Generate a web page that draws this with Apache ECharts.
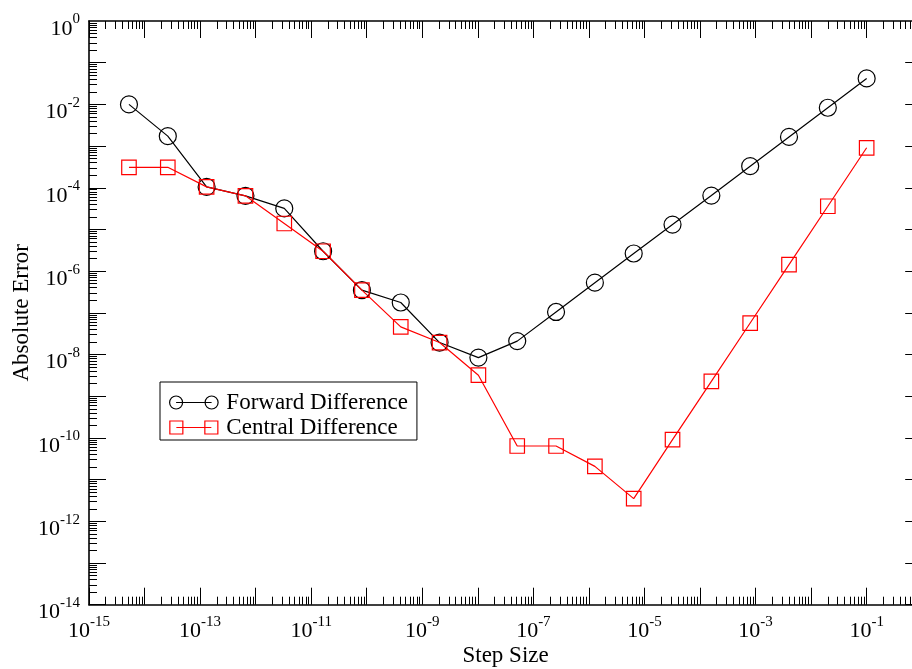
<!DOCTYPE html>
<html><head><meta charset="utf-8">
<script src="https://cdn.jsdelivr.net/npm/echarts@6/dist/echarts.min.js"></script>
<style>html,body{margin:0;padding:0;background:#fff}#c{width:912px;height:669px}</style>
</head><body><div id="c"></div>
<script>
// ---- data ----
const stepSize = [5.24288e-15, 2.62144e-14, 1.31072e-13, 6.5536e-13, 3.2768e-12, 1.6384e-11, 8.192e-11, 4.096e-10, 2.048e-9, 1.024e-8, 5.12e-8, 2.56e-7, 1.28e-6, 6.4e-6, 3.2e-5, 1.6e-4, 8e-4, 4e-3, 2e-2, 1e-1];
const forwardError = [1.0e-2, 1.73e-3, 1.05e-4, 6.4e-5, 3.2e-5, 3.0e-6, 3.5e-7, 1.77e-7, 1.94e-8, 8.45e-9, 2.1e-8, 1.05e-7, 5.3e-7, 2.65e-6, 1.31e-5, 6.5e-5, 3.3e-4, 1.66e-3, 8.3e-3, 4.2e-2];
const centralError = [3.1e-4, 3.1e-4, 1.05e-4, 6.4e-5, 1.39e-5, 3.0e-6, 3.5e-7, 4.6e-8, 1.94e-8, 3.2e-9, 6.4e-11, 6.4e-11, 2.08e-11, 3.5e-12, 9.1e-11, 2.28e-9, 5.7e-8, 1.44e-6, 3.6e-5, 9.1e-4];
const seriesNames = ['Forward Difference', 'Central Difference'];
const xLabelValues = [1e-15, 1e-13, 1e-11, 1e-9, 1e-7, 1e-5, 1e-3, 1e-1];
const yLabelValues = [1e-14, 1e-12, 1e-10, 1e-8, 1e-6, 1e-4, 1e-2, 1];
const xDecadeExps = [-15, -14, -13, -12, -11, -10, -9, -8, -7, -6, -5, -4, -3, -2, -1];
const yDecadeExps = [-14, -13, -12, -11, -10, -9, -8, -7, -6, -5, -4, -3, -2, -1];
const minorMultipliers = [2, 3, 4, 5, 6, 7, 8, 9];

// ---- helpers ----
const FONT = 'Liberation Serif';
function majors(exps) { return exps.map(e => Math.pow(10, e)); }
function minors(exps) {
  const out = [];
  exps.forEach(e => minorMultipliers.forEach(k => out.push(parseFloat((k * Math.pow(10, e)).toPrecision(6)))));
  return out;
}
function fmt(v) {
  const e = Math.round(Math.log10(v));
  return '{b|10}{s|' + e + '}';
}
const rich = {
  b: { fontFamily: FONT, fontSize: 22, lineHeight: 22, color: '#000', padding: [18, 0, 2, 0] },
  s: { fontFamily: FONT, fontSize: 15, lineHeight: 15, color: '#000', padding: [12, 0, 15, 0] }
};
function axis(base, pos, tickVals, tickLen, showLine, label) {
  return Object.assign({
    type: 'log', logBase: 10, position: pos, gridIndex: 0,
    splitLine: { show: false }, minorTick: { show: false },
    axisLine: { show: showLine, onZero: false, lineStyle: { color: '#000', width: 1.6 } },
    axisTick: { show: true, inside: true, length: tickLen, customValues: tickVals, lineStyle: { color: '#000', width: 1 } },
    axisLabel: label || { show: false }
  }, base);
}
const xBase = { min: 1e-15, max: 1 };
const yBase = { min: 1e-14, max: 1 };
const xMaj = majors(xDecadeExps), xMin = minors(xDecadeExps);
const yMaj = majors(yDecadeExps), yMin = minors(yDecadeExps);

const xAxes = [
  axis(Object.assign({ name: 'Step Size', nameLocation: 'middle', nameGap: 40, nameMoveOverlap: false,
    nameTextStyle: { fontFamily: FONT, fontSize: 23, color: '#000' } }, xBase), 'bottom', xMaj, 17, true,
    { show: true, customValues: xLabelValues, formatter: fmt, rich: rich, margin: 8 }),
  axis(xBase, 'bottom', xMin, 8, false),
  axis(xBase, 'top', xMaj, 17, true),
  axis(xBase, 'top', xMin, 8, false)
];
const yAxes = [
  axis(Object.assign({ name: 'Absolute Error', nameLocation: 'middle', nameGap: 56, nameRotate: 90, nameMoveOverlap: false,
    nameTextStyle: { fontFamily: FONT, fontSize: 23, color: '#000' } }, yBase), 'left', yMaj, 17, true,
    { show: true, customValues: yLabelValues, formatter: fmt, rich: rich, margin: 9 }),
  axis(yBase, 'left', yMin, 8, false),
  axis(yBase, 'right', yMaj, 17, true),
  axis(yBase, 'right', yMin, 8, false)
];

const circleIcon = 'path://M0.5,7a6.5,6.5 0 1,0 13,0a6.5,6.5 0 1,0 -13,0M7,7L42.5,7M36,7a6.5,6.5 0 1,0 13,0a6.5,6.5 0 1,0 -13,0';
const squareIcon = 'path://M0.5,0.5h13v13h-13zM7,7L42,7M35.5,0.5h13v13h-13z';

const chart = echarts.init(document.getElementById('c'), null, { renderer: 'canvas' });
chart.setOption({
  animation: false,
  backgroundColor: '#fff',
  grid: { left: 89, right: -10.2, top: 21, bottom: 64.3, containLabel: false, outerBoundsMode: 'none' },
  xAxis: xAxes,
  yAxis: yAxes,
  legend: {
    orient: 'vertical', left: 160, top: 382,
    padding: [9, 9, 1, 9], itemGap: 2, itemWidth: 49, itemHeight: 13,
    backgroundColor: '#fff', borderColor: '#000', borderWidth: 1, borderRadius: 0,
    textStyle: { fontFamily: FONT, fontSize: 23, color: '#000', padding: [0, 0, 0, 3] },
    data: [
      { name: seriesNames[0], icon: circleIcon, itemStyle: { color: 'rgba(0,0,0,0)', borderColor: '#000', borderWidth: 1.2 } },
      { name: seriesNames[1], icon: squareIcon, itemStyle: { color: 'rgba(0,0,0,0)', borderColor: '#ff0000', borderWidth: 1.2 } }
    ]
  },
  series: [
    {
      name: seriesNames[0], type: 'line', xAxisIndex: 0, yAxisIndex: 0,
      data: stepSize.map((x, i) => [x, forwardError[i]]),
      symbol: 'circle', symbolSize: 17, showAllSymbol: true,
      lineStyle: { color: '#000', width: 1.2 },
      itemStyle: { color: 'rgba(0,0,0,0)', borderColor: '#000', borderWidth: 1.2 },
      emphasis: { disabled: true }
    },
    {
      name: seriesNames[1], type: 'line', xAxisIndex: 0, yAxisIndex: 0,
      data: stepSize.map((x, i) => [x, centralError[i]]),
      symbol: 'rect', symbolSize: 14.5, showAllSymbol: true,
      lineStyle: { color: '#ff0000', width: 1.2 },
      itemStyle: { color: 'rgba(0,0,0,0)', borderColor: '#ff0000', borderWidth: 1.2 },
      emphasis: { disabled: true }
    }
  ]
});
</script>
</body></html>
